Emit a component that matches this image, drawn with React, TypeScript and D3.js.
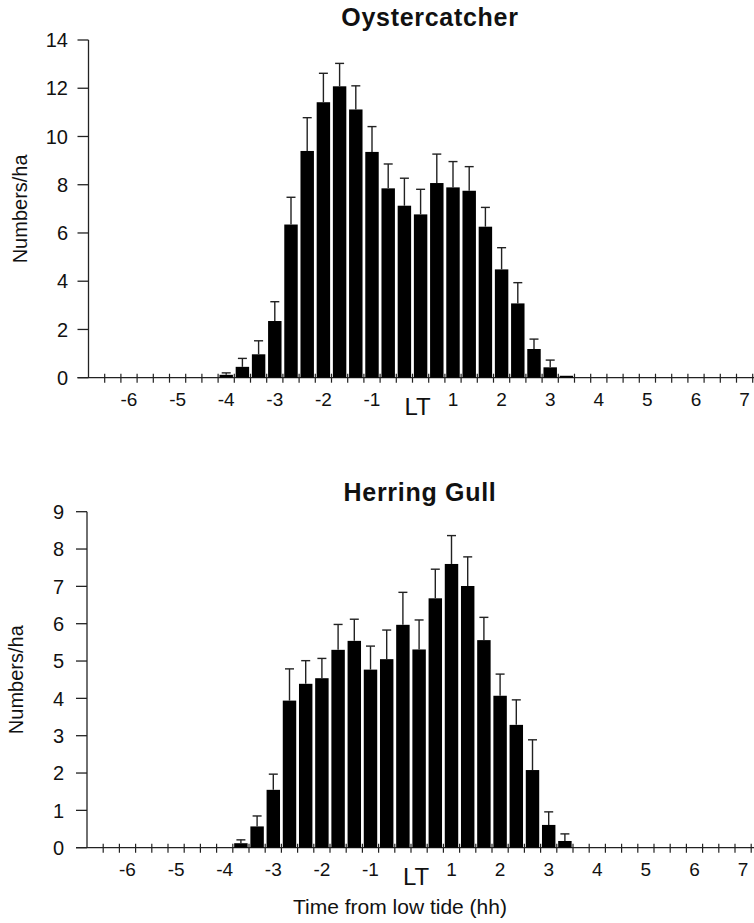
import React from "react";
import * as d3 from "d3";

// ---- data ----
const BIN_COUNT = 41; // 20-minute bins along the tide axis
const barBins = [8, 9, 10, 11, 12, 13, 14, 15, 16, 17, 18, 19, 20, 21, 22, 23, 24, 25, 26, 27, 28, 29];

const oysterMean = [0.12, 0.45, 0.97, 2.35, 6.35, 9.4, 11.42, 12.08, 11.12, 9.36, 7.85, 7.13, 6.77, 8.07, 7.89, 7.75, 6.26, 4.49, 3.08, 1.19, 0.43, 0.08];
const oysterUpper = [0.2, 0.8, 1.53, 3.15, 7.48, 10.78, 12.62, 13.03, 12.1, 10.41, 8.86, 8.27, 7.81, 9.27, 8.96, 8.75, 7.06, 5.39, 3.94, 1.6, 0.73, 0.08];

const gullMean = [0, 0.12, 0.57, 1.55, 3.94, 4.39, 4.54, 5.3, 5.54, 4.77, 5.05, 5.97, 5.31, 6.68, 7.6, 7.01, 5.56, 4.07, 3.29, 2.08, 0.61, 0.18];
const gullUpper = [0, 0.21, 0.85, 1.97, 4.79, 5.01, 5.07, 5.98, 6.12, 5.4, 5.83, 6.84, 6.1, 7.46, 8.36, 7.79, 6.17, 4.65, 3.96, 2.89, 0.96, 0.37];

const xTickLabels = ["-6", "-5", "-4", "-3", "-2", "-1", "LT", "1", "2", "3", "4", "5", "6", "7"];
const xTickBins = [2, 5, 8, 11, 14, 17, 20, 22, 25, 28, 31, 34, 37, 40];

const oysterYTicks = [0, 2, 4, 6, 8, 10, 12, 14];
const gullYTicks = [0, 1, 2, 3, 4, 5, 6, 7, 8, 9];

const FONT = "Arial, 'Liberation Sans', Helvetica, sans-serif";

type PanelProps = {
  title: string;
  titleX: number;
  titleY: number;
  means: number[];
  uppers: number[];
  yTicks: number[];
  yMax: number;
  axisX: number;
  yTop: number;
  yBottom: number;
  yLabelEnd: number;
  yTitleX: number;
};

function Panel(p: PanelProps) {
  const binW = 16.2;
  const x = d3
    .scaleBand<number>()
    .domain(d3.range(BIN_COUNT))
    .range([p.axisX, p.axisX + BIN_COUNT * binW])
    .paddingInner(0.17)
    .paddingOuter(0.085);
  const step = x.step();
  const start = p.axisX;
  const y = d3.scaleLinear().domain([0, p.yMax]).range([p.yBottom, p.yTop]);
  const y0 = y(0);
  const capW = 9;
  const bw = x.bandwidth();
  const binCenter = (b: number) => start + (b + 0.5) * step;
  const barLeft = (b: number) => binCenter(b) - bw / 2;

  return (
    <g>
      <text x={p.titleX} y={p.titleY} textAnchor="middle" fontFamily={FONT} fontWeight="bold" fontSize={25} letterSpacing={0.7} fill="#111">
        {p.title}
      </text>
      <text
        transform={`translate(${p.yTitleX},${(p.yTop + p.yBottom) / 2}) rotate(-90)`}
        textAnchor="middle"
        fontFamily={FONT}
        fontSize={20}
        fill="#111"
      >
        Numbers/ha
      </text>
      {/* y axis */}
      <line x1={p.axisX} x2={p.axisX} y1={y(p.yMax)} y2={y0} stroke="#222" strokeWidth={1.3} />
      {p.yTicks.map((t) => (
        <g key={t}>
          <line x1={p.axisX - 11} x2={p.axisX} y1={y(t)} y2={y(t)} stroke="#222" strokeWidth={1.3} />
          <text x={p.yLabelEnd} y={y(t)} dy="0.36em" textAnchor="end" fontFamily={FONT} fontSize={20} fill="#111">
            {t}
          </text>
        </g>
      ))}
      {/* x axis */}
      <line x1={p.axisX - 11} x2={754} y1={y0} y2={y0} stroke="#222" strokeWidth={1.3} />
      {d3.range(1, BIN_COUNT + 1).map((k) => (
        <line key={k} x1={start + k * step} x2={start + k * step} y1={y0 - 4} y2={y0 + 5} stroke="#222" strokeWidth={1.2} />
      ))}
      {xTickLabels.map((lab, i) => {
        const isLT = lab === "LT";
        return (
          <text
            key={lab}
            x={binCenter(xTickBins[i]) + (isLT ? -3 : 0)}
            y={y0 + (isLT ? 37 : 28)}
            textAnchor="middle"
            fontFamily={FONT}
            fontSize={isLT ? 24 : 19}
            fill="#111"
          >
            {lab}
          </text>
        );
      })}
      {/* bars */}
      {barBins.map((b, i) => {
        const m = p.means[i];
        if (m <= 0) return null;
        const top = y(m);
        const up = y(p.uppers[i]);
        const cx = binCenter(b);
        return (
          <g key={b}>
            <rect x={barLeft(b)} y={top} width={bw} height={y0 - top} fill="#000" />
            {p.uppers[i] > m && (
              <>
                <line x1={cx} x2={cx} y1={top} y2={up} stroke="#222" strokeWidth={1.4} />
                <line x1={cx - capW / 2} x2={cx + capW / 2} y1={up} y2={up} stroke="#222" strokeWidth={1.4} />
              </>
            )}
          </g>
        );
      })}
    </g>
  );
}

export default function App() {
  return (
    <svg width={754} height={923} style={{ position: "absolute", left: 0, top: 0, background: "#fff" }}>
      <rect x={0} y={0} width={754} height={923} fill="#fff" />
      <Panel
        title="Oystercatcher"
        titleX={430}
        titleY={26}
        means={oysterMean}
        uppers={oysterUpper}
        yTicks={oysterYTicks}
        yMax={14}
        axisX={88.5}
        yTop={40}
        yBottom={377.7}
        yLabelEnd={68}
        yTitleX={27}
      />
      <Panel
        title="Herring Gull"
        titleX={420}
        titleY={501}
        means={gullMean}
        uppers={gullUpper}
        yTicks={gullYTicks}
        yMax={9}
        axisX={87}
        yTop={511.7}
        yBottom={847.7}
        yLabelEnd={64}
        yTitleX={23}
      />
      <text x={400} y={914} textAnchor="middle" fontFamily={FONT} fontSize={21} fill="#111">
        Time from low tide (hh)
      </text>
    </svg>
  );
}
